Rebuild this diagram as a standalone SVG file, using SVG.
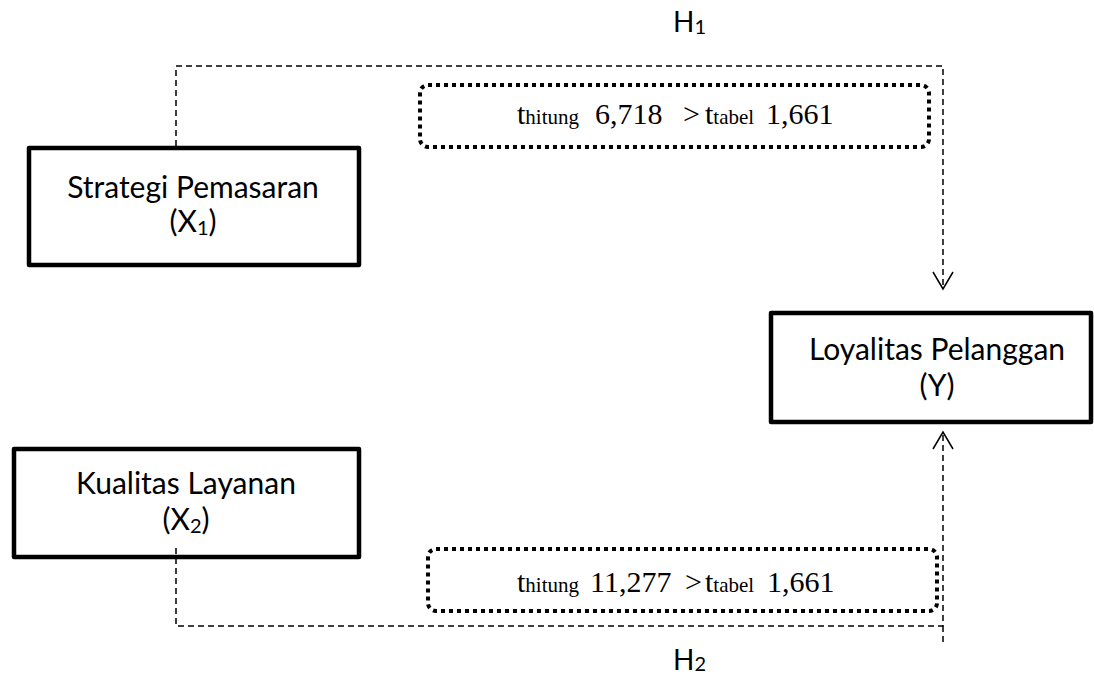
<svg xmlns="http://www.w3.org/2000/svg" width="1094" height="677" viewBox="0 0 1094 677">
<style>
.node{fill:#fff;stroke:#000;stroke-width:4.5;stroke-linejoin:round}
.lbl{font-family:Lato,"Open Sans","Liberation Sans",sans-serif;font-size:30px;fill:#000;text-anchor:middle}
.sub{font-size:20px}
.hl{font-family:Lato,"Open Sans","Liberation Sans",sans-serif;font-size:28px;fill:#000}
.dash{fill:none;stroke:#000;stroke-width:1.5;stroke-dasharray:6 4}
.dot{fill:none;stroke:#000;stroke-width:4;stroke-dasharray:4 4}
.ts{font-family:"Liberation Serif","Times New Roman",serif;fill:#000;font-size:30px}
.sm{font-size:21px}
.arr{fill:none;stroke:#000;stroke-width:1.5}
</style>
<rect width="1094" height="677" fill="#fff"/>
<g id="x1">
<rect class="node" x="29" y="148" width="330" height="117"/>
<text class="lbl" x="193" y="198">Strategi Pemasaran</text>
<text class="lbl" x="193" y="232">(X<tspan class="sub" dy="3">1</tspan><tspan dy="-3">)</tspan></text>
</g>
<g id="x2">
<rect class="node" x="14" y="449" width="345" height="108"/>
<text class="lbl" x="186" y="494">Kualitas Layanan</text>
<text class="lbl" x="186" y="530">(X<tspan class="sub" dy="3">2</tspan><tspan dy="-3">)</tspan></text>
</g>
<g id="y">
<rect class="node" x="771" y="313" width="320" height="109"/>
<text class="lbl" x="937" y="360">Loyalitas Pelanggan</text>
<text class="lbl" x="937" y="396">(Y)</text>
</g>
<g id="connectors">
<path class="dash" d="M176 146 V66 H943 V288"/>
<path class="arr" d="M933 272 L943 289 L953 272"/>
<path class="dash" d="M176 548 V626 H943 V434"/>
<path class="dash" d="M943 626 V642"/>
<path class="arr" d="M933 449 L943 432 L953 449"/>
</g>
<g id="h1"><text class="hl" x="673" y="32">H<tspan class="sub" dy="2">1</tspan></text></g>
<g id="h2"><text class="hl" x="673" y="670">H<tspan class="sub" dy="1">2</tspan></text></g>
<g id="t1">
<rect class="dot" x="420" y="85" width="509" height="62" rx="8"/>
<text class="ts" y="124"><tspan x="517">t</tspan><tspan class="sm">hitung</tspan><tspan x="595">6,718</tspan><tspan x="683">&gt;</tspan><tspan x="705">t</tspan><tspan class="sm">tabel</tspan><tspan x="766">1,661</tspan></text>
</g>
<g id="t2">
<rect class="dot" x="428" y="549" width="509" height="62" rx="8"/>
<text class="ts" y="592"><tspan x="517">t</tspan><tspan class="sm">hitung</tspan><tspan x="590">11,277</tspan><tspan x="685">&gt;</tspan><tspan x="705">t</tspan><tspan class="sm">tabel</tspan><tspan x="767">1,661</tspan></text>
</g>
</svg>
